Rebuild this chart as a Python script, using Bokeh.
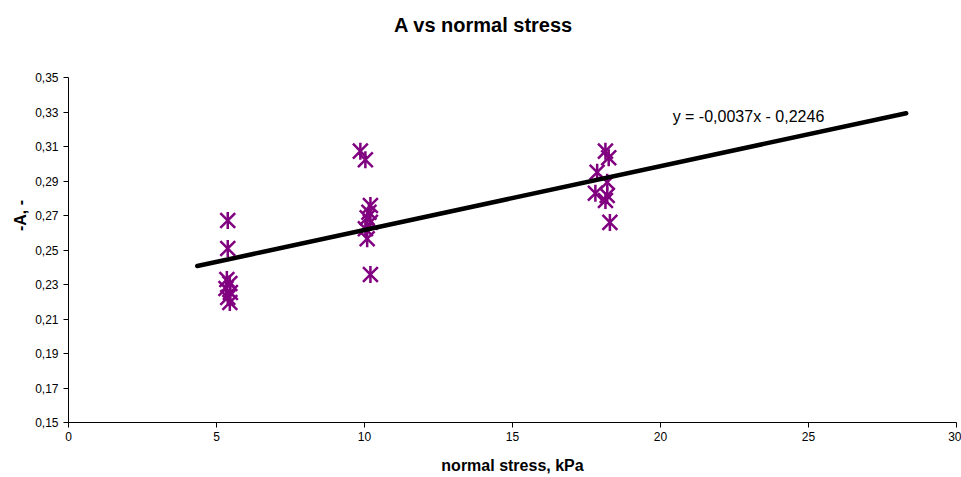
from bokeh.plotting import figure
from bokeh.models import Range1d, FixedTicker, Label
from bokeh.embed import file_html
from bokeh.resources import INLINE
import math

# ---- data ----
stress = [5.38, 5.38, 5.35, 5.45, 5.32, 5.47, 5.38, 5.45,
          9.86, 10.03, 10.20, 10.15, 10.09, 10.20, 10.03, 10.09, 10.20,
          18.14, 18.25, 17.86, 18.20, 17.80, 18.20, 18.14, 18.29]
neg_A = [0.2671, 0.2509, 0.2329, 0.2306, 0.2277, 0.2254, 0.2225, 0.2196,
         0.3073, 0.3023, 0.2758, 0.2719, 0.2687, 0.2661, 0.2623, 0.2565, 0.2358,
         0.3073, 0.3035, 0.2951, 0.2893, 0.2829, 0.2816, 0.2787, 0.2660]

trend_x = [4.35, 28.3]
slope = 0.0037
intercept = 0.2246
trend_y = [slope * x + intercept for x in trend_x]

x_ticks = [0, 5, 10, 15, 20, 25, 30]
y_ticks = [0.15, 0.17, 0.19, 0.21, 0.23, 0.25, 0.27, 0.29, 0.31, 0.33, 0.35]
y_tick_labels = ["0,15", "0,17", "0,19", "0,21", "0,23", "0,25", "0,27",
                 "0,29", "0,31", "0,33", "0,35"]

title_text = "A vs normal stress"
x_label = "normal stress, kPa"
y_label = "-A, -"
equation_text = "y = -0,0037x - 0,2246"

FONT = "Liberation Sans"
PURPLE = "#800080"

# y range extends above the axis (axis bounded to 0.15-0.35) to hold the title
p = figure(width=961, height=477, output_backend="svg", toolbar_location=None,
           x_range=Range1d(0, 30), y_range=Range1d(0.15, 0.39),
           min_border_left=68, min_border_right=5, min_border_top=8,
           min_border_bottom=55)
p.outline_line_color = None
p.grid.visible = False
p.background_fill_color = "white"
p.border_fill_color = "white"

# axes
p.xaxis.ticker = FixedTicker(ticks=x_ticks)
p.yaxis.ticker = FixedTicker(ticks=y_ticks)
p.yaxis.bounds = (0.15, 0.35)
p.yaxis.major_label_overrides = {t: l for t, l in zip(y_ticks, y_tick_labels)}
for ax in (p.xaxis, p.yaxis):
    ax.axis_line_color = "black"
    ax.axis_line_width = 1
    ax.major_tick_line_color = "black"
    ax.major_tick_out = 5
    ax.major_tick_in = 0
    ax.minor_tick_line_color = None
    ax.major_label_text_font = FONT
    ax.major_label_text_font_size = "12px"
    ax.major_label_text_color = "black"
    ax.axis_label_text_font = FONT
    ax.axis_label_text_font_size = "16px"
    ax.axis_label_text_font_style = "bold"
    ax.axis_label_text_color = "black"

p.xaxis.axis_label = x_label
p.yaxis.axis_label = y_label
p.xaxis.major_label_standoff = 4
p.yaxis.major_label_standoff = 5
p.xaxis.axis_label_standoff = 13
p.yaxis.axis_label_standoff = 3

# markers (Excel-style star: X plus vertical bar)
p.scatter(stress, neg_A, marker="x", size=21, line_color=PURPLE, line_width=2.5)
p.scatter(stress, neg_A, marker="dash", size=17, angle=math.pi / 2,
          line_color=PURPLE, line_width=2.5)

# trend line
p.line(trend_x, trend_y, line_color="black", line_width=4.5, line_cap="round")

# equation
p.add_layout(Label(x=20.41, y=0.3276, text=equation_text, text_align="left",
                   text_baseline="alphabetic", text_font=FONT,
                   text_font_size="16px", text_color="black"))

# title
p.add_layout(Label(x=14.02, y=0.3807, text=title_text, text_align="center",
                   text_baseline="alphabetic", text_font=FONT,
                   text_font_size="20px", text_font_style="bold",
                   text_color="black"))

open("out.html", "w").write(file_html(p, INLINE))
